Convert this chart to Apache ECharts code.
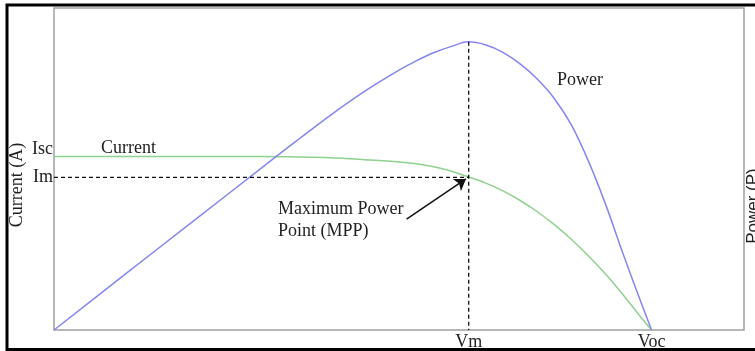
<!DOCTYPE html>
<html>
<head>
<meta charset="utf-8">
<script src="https://cdn.jsdelivr.net/npm/echarts@6/dist/echarts.min.js"></script>
<style>
html,body{margin:0;padding:0;background:#fff;}
#chart{width:755px;height:351px;}
</style>
</head>
<body>
<div id="chart"></div>
<script>
// Normalised voltage (x) and current / power (y)
const voltage = [0, 10, 20, 30, 35, 40, 45, 50, 52.5, 55, 57.5, 60, 62.5, 65, 67.5, 70, 72.5, 75, 77.5, 80, 82.5, 85, 86.6];
const current = [53.9, 53.9, 53.9, 53.9, 53.75, 53.5, 52.9, 52.2, 51.6, 50.7, 49.4, 47.6, 45.7, 43.3, 40.3, 36.8, 32.7, 28.1, 22.9, 17.2, 10.9, 4.1, 0];
const power =   [0, 16.8, 33.5, 50.2, 58.5, 66.6, 74.1, 80.7, 83.6, 86.1, 88.0, 89.5, 88.6, 86.3, 82.7, 78.0, 71.9, 63.6, 52.2, 38.7, 23.5, 9.0, 0];
const Vm = 60.1, Voc = 86.6, Im = 47.4, Isc = 53.9, Pmax = 89.5;
const xTickValues = [Vm, Voc];
const xTickLabels = ['Vm', 'Voc'];
const yTickValues = [Im, Isc];
const yTickLabels = ['Im', 'Isc'];
const arrowFrom = [51.1, 34.4];
const arrowTo = [59.7, 46.9];

const serif = '"Liberation Serif", "DejaVu Serif", serif';
const chart = echarts.init(document.getElementById('chart'));
const zip = (a, b) => a.map((v, i) => [v, b[i]]);

chart.setOption({
  animation: false,
  backgroundColor: '#fff',
  grid: {left: 54, right: 11, top: 8, bottom: 20, show: true, borderColor: '#a0a0a0', borderWidth: 1.5},
  xAxis: {
    type: 'value', min: 0, max: 100,
    axisLine: {show: false}, axisTick: {show: false}, splitLine: {show: false},
    axisLabel: {
      customValues: xTickValues, margin: 3,
      formatter: v => xTickLabels[xTickValues.indexOf(v)],
      fontFamily: serif, fontSize: 18, color: '#222'
    }
  },
  yAxis: {
    type: 'value', min: 0, max: 100,
    axisLine: {show: false}, axisTick: {show: false}, splitLine: {show: false},
    axisLabel: {
      customValues: yTickValues, margin: 1,
      formatter: v => {
        const t = yTickLabels[yTickValues.indexOf(v)];
        return t === 'Isc' ? '{u|' + t + '}' : '{n|' + t + '}';
      },
      fontFamily: serif, fontSize: 18, color: '#222',
      rich: {
        u: {fontFamily: serif, fontSize: 18, color: '#222', padding: [0, 0, 14, 0]},
        n: {fontFamily: serif, fontSize: 18, color: '#222'}
      }
    }
  },
  series: [
    {
      name: 'Current', type: 'line', data: zip(voltage, current),
      smooth: 0.3, symbol: 'none', lineStyle: {color: '#8fd18f', width: 1.5}, z: 3
    },
    {
      name: 'Power', type: 'line', data: zip(voltage, power),
      smooth: 0.3, symbol: 'none', lineStyle: {color: '#8585f2', width: 1.5}, z: 3
    },
    {
      name: 'ImLine', type: 'line', data: [[0, Im], [Vm, Im]],
      symbol: 'none', lineStyle: {color: '#111', width: 1.3, type: [4, 3]}, z: 4
    },
    {
      name: 'VmLine', type: 'line', data: [[Vm, Pmax], [Vm, 0]],
      symbol: 'none', lineStyle: {color: '#111', width: 1.3, type: [4, 3]}, z: 4,
      markLine: {
        silent: true, animation: false,
        symbol: ['none', 'arrow'], symbolSize: 11,
        label: {show: false},
        lineStyle: {color: '#111', width: 1.5, type: 'solid'},
        data: [[{coord: arrowFrom}, {coord: arrowTo}]]
      }
    }
  ],
  graphic: [
    {type: 'text', left: 101, top: 139, style: {text: 'Current', font: '18px ' + serif, fill: '#222'}},
    {type: 'text', left: 557, top: 71, style: {text: 'Power', font: '18px ' + serif, fill: '#222'}},
    {type: 'text', left: 278, top: 200, style: {text: 'Maximum Power', font: '18px ' + serif, fill: '#222'}},
    {type: 'text', left: 278, top: 222, style: {text: 'Point (MPP)', font: '18px ' + serif, fill: '#222'}},
    {type: 'text', x: 17, y: 185, rotation: Math.PI / 2,
      style: {text: 'Current (A)', font: '18px ' + serif, fill: '#222', textAlign: 'center', textVerticalAlign: 'middle'}},
    {type: 'text', x: 753, y: 206, rotation: Math.PI / 2,
      style: {text: 'Power (P)', font: '17px "Liberation Sans", Arial, sans-serif', fill: '#222', textAlign: 'center', textVerticalAlign: 'middle'}},
    {type: 'rect', z: 100, shape: {x: 7, y: 5, width: 760, height: 344.5},
      style: {fill: 'none', stroke: '#000', lineWidth: 3}}
  ]
});
</script>
</body>
</html>
